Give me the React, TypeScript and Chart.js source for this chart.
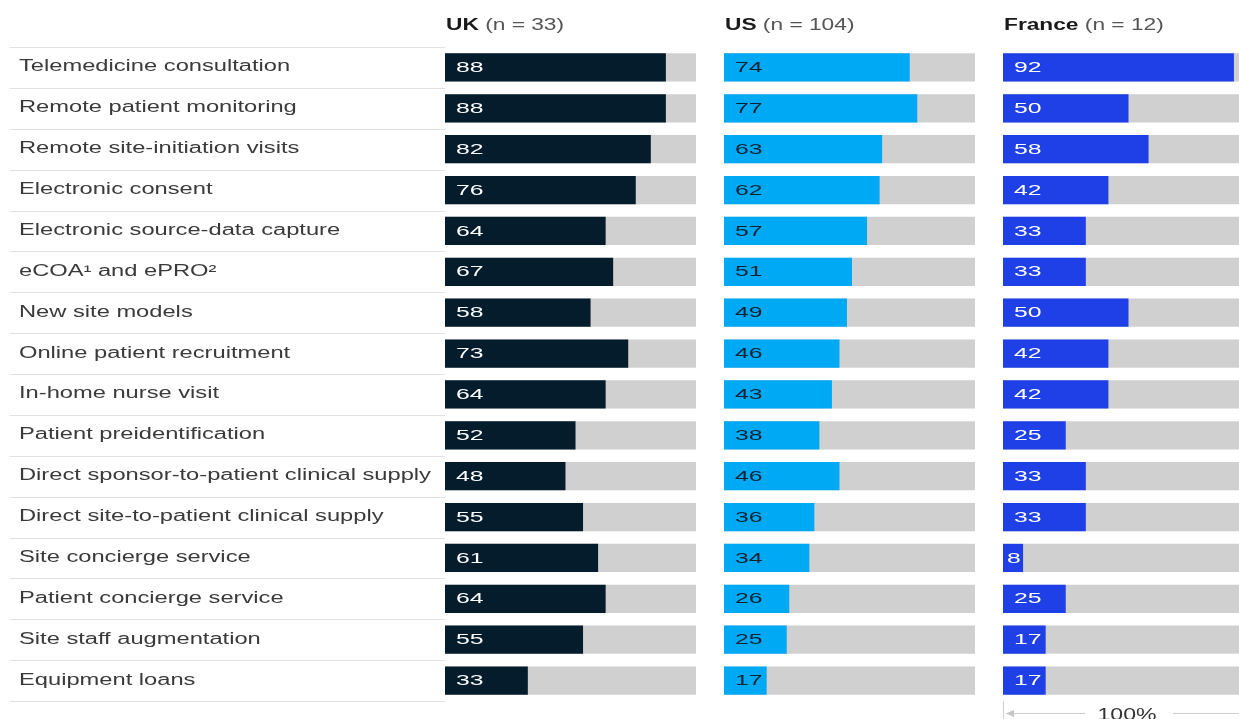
import React, { useEffect, useRef } from "react";
import { Chart, registerables } from "chart.js";

Chart.register(...registerables);

const categories = [
  "Telemedicine consultation",
  "Remote patient monitoring",
  "Remote site-initiation visits",
  "Electronic consent",
  "Electronic source-data capture",
  "eCOA¹ and ePRO²",
  "New site models",
  "Online patient recruitment",
  "In-home nurse visit",
  "Patient preidentification",
  "Direct sponsor-to-patient clinical supply",
  "Direct site-to-patient clinical supply",
  "Site concierge service",
  "Patient concierge service",
  "Site staff augmentation",
  "Equipment loans",
];

const ukValues = [88, 88, 82, 76, 64, 67, 58, 73, 64, 52, 48, 55, 61, 64, 55, 33];
const usValues = [74, 77, 63, 62, 57, 51, 49, 46, 43, 38, 46, 36, 34, 26, 25, 17];
const franceValues = [92, 50, 58, 42, 33, 33, 50, 42, 42, 25, 33, 33, 8, 25, 17, 17];

const panelTitles = ["UK", "US", "France"];
const panelCounts = ["(n = 33)", "(n = 104)", "(n = 12)"];
const FULL = 100;
const scaleLabel = "100%";

const FONT = "'Liberation Sans', Arial, Helvetica, sans-serif";

function stretchText(ctx: CanvasRenderingContext2D, text: string, x: number, y: number, sx: number) {
  ctx.save();
  ctx.translate(x, y);
  ctx.scale(sx, 1);
  ctx.fillText(text, 0, 0);
  ctx.restore();
}

type PanelCfg = {
  left: number;
  width: number;
  padLeft: number;
  padRight: number;
  values: number[];
  color: string;
  valueColor: string;
  title: string;
  count: string;
  drawLabels: boolean;
  drawScale: boolean;
};

const TOP = 47;
const BOTTOM = 701;
const H = 719;

function makePlugin(cfg: PanelCfg) {
  return {
    id: "panelText",
    afterDatasetsDraw(chart: any) {
      const ctx: CanvasRenderingContext2D = chart.ctx;
      const xs = chart.scales.x;
      const meta = chart.getDatasetMeta(0);
      ctx.save();
      ctx.font = `15px ${FONT}`;
      ctx.fillStyle = cfg.valueColor;
      ctx.textBaseline = "middle";
      ctx.textAlign = "left";
      meta.data.forEach((el: any, i: number) => {
        const x0 = xs.getPixelForValue(0);
        const barW = el.x - x0;
        const off = barW < 30 ? 4 : 11;
        stretchText(ctx, String(cfg.values[i]), x0 + off, el.y + 0.5, 1.65);
      });
      ctx.restore();
    },
    afterDraw(chart: any) {
      const ctx: CanvasRenderingContext2D = chart.ctx;
      const ca = chart.chartArea;
      const ys = chart.scales.y;
      ctx.save();
      // header
      ctx.textBaseline = "alphabetic";
      ctx.textAlign = "left";
      ctx.font = `bold 16px ${FONT}`;
      ctx.fillStyle = "#1a1a1a";
      const sx = 1.42;
      stretchText(ctx, cfg.title, ca.left + 1, 30, sx);
      const w = ctx.measureText(cfg.title + " ").width * sx;
      ctx.font = `16px ${FONT}`;
      ctx.fillStyle = "#555555";
      stretchText(ctx, cfg.count, ca.left + 1 + w, 30, sx);

      if (cfg.drawLabels) {
        const n = categories.length;
        const step = (ca.bottom - ca.top) / n;
        ctx.strokeStyle = "#e2e2e2";
        ctx.lineWidth = 1;
        for (let i = 0; i <= n; i++) {
          const y = Math.round(ca.top + i * step) + 0.5;
          ctx.beginPath();
          ctx.moveTo(10, y);
          ctx.lineTo(ca.left, y);
          ctx.stroke();
        }
        ctx.font = `16px ${FONT}`;
        ctx.fillStyle = "#3a3a3a";
        categories.forEach((c, i) => {
          const y = ys.getPixelForValue(i);
          stretchText(ctx, c, 19, y + 4, 1.48);
        });
      }

      if (cfg.drawScale) {
        ctx.strokeStyle = "#cfcfcf";
        ctx.lineWidth = 1;
        const lx = Math.round(ca.left) + 0.5;
        ctx.beginPath();
        ctx.moveTo(lx, ca.bottom);
        ctx.lineTo(lx, H);
        ctx.stroke();
        const ay = 713.5;
        ctx.beginPath();
        ctx.moveTo(ca.left + 3, ay);
        ctx.lineTo(ca.left + 82, ay);
        ctx.moveTo(ca.left + 170, ay);
        ctx.lineTo(ca.right - 3, ay);
        ctx.stroke();
        ctx.fillStyle = "#c4c4c4";
        ctx.beginPath();
        ctx.moveTo(ca.left + 3, ay);
        ctx.lineTo(ca.left + 11, ay - 3.5);
        ctx.lineTo(ca.left + 11, ay + 3.5);
        ctx.closePath();
        ctx.fill();
        ctx.beginPath();
        ctx.moveTo(ca.right - 3, ay);
        ctx.lineTo(ca.right - 11, ay - 3.5);
        ctx.lineTo(ca.right - 11, ay + 3.5);
        ctx.closePath();
        ctx.fill();
        ctx.font = `16px ${FONT}`;
        ctx.fillStyle = "#333333";
        ctx.textBaseline = "alphabetic";
        const tw = ctx.measureText(scaleLabel).width * 1.44;
        stretchText(ctx, scaleLabel, ca.left + 124 - tw / 2, 720, 1.44);
      }
      ctx.restore();
    },
  };
}

function Panel({ cfg }: { cfg: PanelCfg }) {
  const ref = useRef<HTMLCanvasElement>(null);
  useEffect(() => {
    if (!ref.current) return;
    const chart = new Chart(ref.current, {
      type: "bar",
      data: {
        labels: categories,
        datasets: [
          {
            data: cfg.values,
            backgroundColor: cfg.color,
            grouped: false,
            order: 1,
            barPercentage: 0.69,
            categoryPercentage: 1,
            borderWidth: 0,
          } as any,
          {
            data: categories.map(() => FULL),
            backgroundColor: "#D0D0D0",
            grouped: false,
            order: 2,
            barPercentage: 0.69,
            categoryPercentage: 1,
            borderWidth: 0,
          } as any,
        ],
      },
      options: {
        indexAxis: "y",
        responsive: false,
        animation: false,
        devicePixelRatio: 1,
        layout: {
          padding: {
            left: cfg.padLeft,
            right: cfg.padRight,
            top: TOP,
            bottom: H - BOTTOM,
          },
        },
        scales: {
          x: { display: false, min: 0, max: 100 },
          y: { display: false },
        },
        plugins: {
          legend: { display: false },
          tooltip: { enabled: false },
        },
      },
      plugins: [makePlugin(cfg)],
    });
    return () => chart.destroy();
  }, []);
  return (
    <canvas
      ref={ref}
      width={cfg.width}
      height={H}
      style={{ position: "absolute", left: cfg.left, top: 0, width: cfg.width, height: H }}
    />
  );
}

const panels: PanelCfg[] = [
  {
    left: 0, width: 700, padLeft: 445, padRight: 4, values: ukValues, color: "#051C2C",
    valueColor: "#ffffff", title: panelTitles[0], count: panelCounts[0], drawLabels: true, drawScale: false,
  },
  {
    left: 700, width: 280, padLeft: 24, padRight: 5, values: usValues, color: "#00A9F4",
    valueColor: "#0b2233", title: panelTitles[1], count: panelCounts[1], drawLabels: false, drawScale: false,
  },
  {
    left: 980, width: 280, padLeft: 23, padRight: 6, values: franceValues, color: "#1F40E6",
    valueColor: "#ffffff", title: panelTitles[2], count: panelCounts[2], drawLabels: false, drawScale: true,
  },
];

export default function App() {
  useEffect(() => {
    document.body.style.margin = "0";
    document.body.style.overflow = "hidden";
  }, []);
  return (
    <div style={{ position: "relative", width: 1239, height: H, overflow: "hidden", background: "#fff" }}>
      {panels.map((p, i) => (
        <Panel key={i} cfg={p} />
      ))}
    </div>
  );
}
